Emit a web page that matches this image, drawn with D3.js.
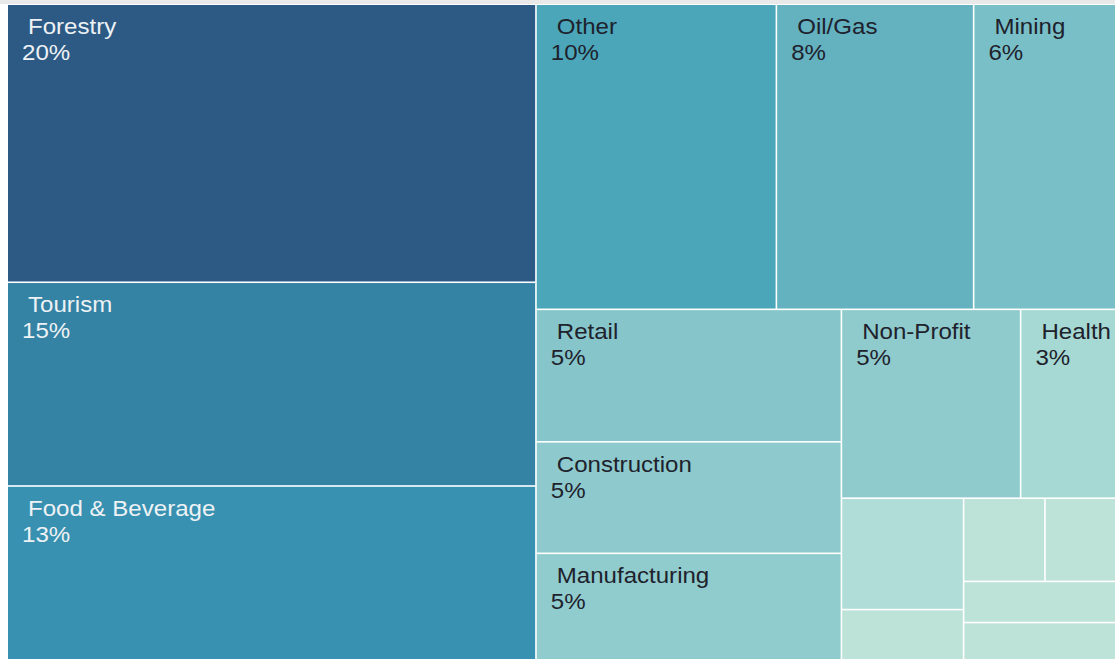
<!DOCTYPE html>
<html>
<head>
<meta charset="utf-8">
<script src="https://cdn.jsdelivr.net/npm/d3@7"></script>
<style>
  html, body { margin: 0; padding: 0; background: #ffffff; }
  svg { display: block; }
  text { font-family: "Liberation Sans", Arial, sans-serif; }
</style>
</head>
<body>
<svg id="chart" width="1115" height="659"></svg>
<script>
// ---- data ----
const categories = ["Forestry", "Tourism", "Food & Beverage", "Other", "Oil/Gas", "Mining",
  "Retail", "Construction", "Manufacturing", "Non-Profit", "Health", "", "", "", "", "", ""];
const shares = [20.2, 14.8, 12.7, 10.08, 8.27, 5.96, 5.56, 4.68, 4.51, 4.65, 2.47,
  1.87, 0.86, 0.93, 0.81, 0.86, 0.80];
const shareLabels = ["20%", "15%", "13%", "10%", "8%", "6%", "5%", "5%", "5%", "5%", "3%",
  "", "", "", "", "", ""];
// nesting of category indices (structure only) used by the slice/dice tiling
const groups = [[0, 1, 2], [[3, 4, 5], [[6, 7, 8], [[9, 10], [[11, 12], [[13, 14], 15, 16]]]]]];

// ---- layout ----
const svg = d3.select("#chart");
svg.append("rect").attr("x", 0).attr("y", 0).attr("width", 1115).attr("height", 4).attr("fill", "#e9e9e9");

function build(g) {
  return Array.isArray(g) ? { children: g.map(build) } : { index: g };
}
const root = d3.hierarchy(build(groups))
  .sum(d => d.index !== undefined ? shares[d.index] : 0);

const X0 = 8, Y0 = 5, X1 = 1115, Y1 = 660;
d3.treemap()
  .tile(d3.treemapSliceDice)
  .size([X1 - X0, Y1 - Y0])
  .paddingInner(1.6)
  .round(false)(root);

const color = d3.scaleLinear()
  .domain([0.8, 1.0, 1.87, 2.47, 4.6, 5.56, 5.96, 8.27, 10.08, 12.7, 14.8, 20.2])
  .range(["#bde3d8", "#bde3d8", "#b1ddd8", "#a6d9d3", "#8fcacd", "#86c5ca", "#79bfc7",
          "#64b1c0", "#4ba6ba", "#3891b1", "#3482a4", "#2d5a85"])
  .clamp(true);

const leaves = root.leaves();
const g = svg.append("g").attr("transform", `translate(${X0},${Y0})`);

const cell = g.selectAll("g.cell").data(leaves).join("g").attr("class", "cell");
cell.append("rect")
  .attr("x", d => d.x0).attr("y", d => d.y0)
  .attr("width", d => d.x1 - d.x0).attr("height", d => d.y1 - d.y0)
  .attr("fill", d => color(shares[d.data.index]));

const textColor = d => shares[d.data.index] >= 12 ? "#eef2f5" : "#1e222c";

cell.filter(d => categories[d.data.index] !== "")
  .append("text")
  .attr("transform", d => `translate(${d.x0 + 20},${d.y0 + 29}) scale(1.12,1)`)
  .attr("font-size", 21.5)
  .attr("fill", textColor)
  .text(d => categories[d.data.index]);

cell.filter(d => shareLabels[d.data.index] !== "")
  .append("text")
  .attr("transform", d => `translate(${d.x0 + 14},${d.y0 + 55}) scale(1.12,1)`)
  .attr("font-size", 21.5)
  .attr("fill", textColor)
  .text(d => shareLabels[d.data.index]);
</script>
</body>
</html>
